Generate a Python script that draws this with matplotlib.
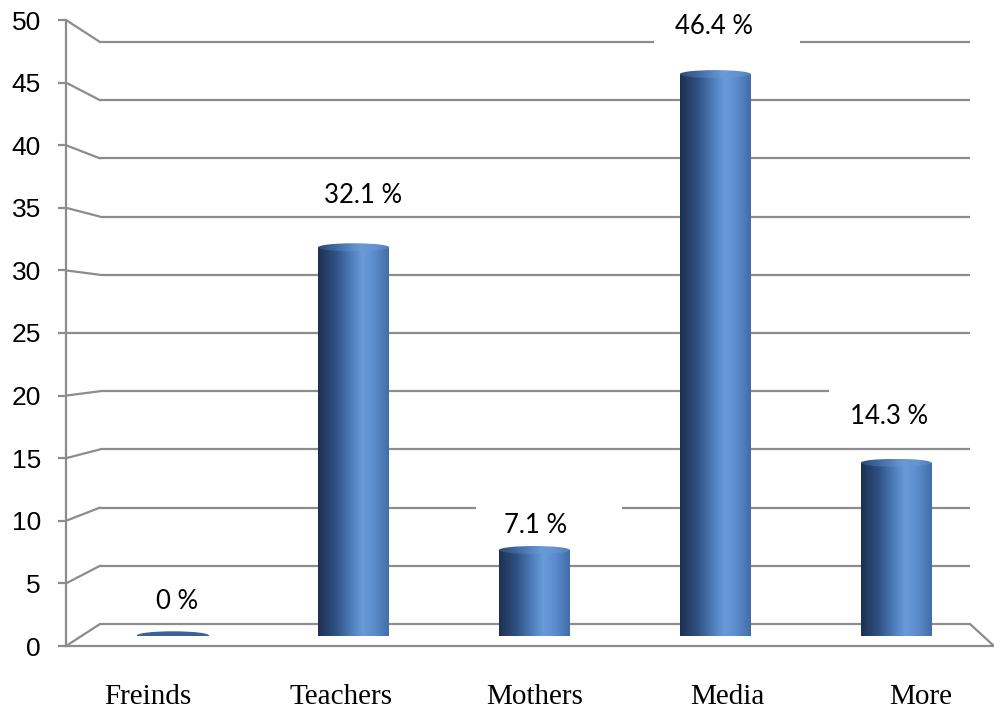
import matplotlib
matplotlib.use("Agg")
import matplotlib.pyplot as plt
import numpy as np
from matplotlib.colors import LinearSegmentedColormap
from matplotlib.patches import Ellipse, Rectangle, ConnectionPatch
from matplotlib.transforms import ScaledTranslation

categories = ["Freinds", "Teachers", "Mothers", "Media", "More"]
values = [0, 32.1, 7.1, 46.4, 14.3]
value_labels = ["0 %", "32.1 %", "7.1 %", "46.4 %", "14.3 %"]
yticks = [0, 5, 10, 15, 20, 25, 30, 35, 40, 45, 50]

# label lift above bar top (points) and small x nudge
label_lift = [25, 37, 18, 34, 33]
label_dx = [3, 7, 1, -1, -5]

grid_c = "#8c8c8c"
W, H = 994, 710

body_cmap = LinearSegmentedColormap.from_list(
    "body", [(0, "#1d3050"), (0.25, "#2f5283"), (0.5, "#5384c3"),
             (0.63, "#6a9bd9"), (0.8, "#5b8bca"), (1, "#416ea9")])
cap_cmap = LinearSegmentedColormap.from_list(
    "cap", [(0, "#2c4a78"), (0.3, "#4670a8"), (0.6, "#6a9ad6"),
            (0.8, "#6393d0"), (1, "#5080bc")])
grad = np.linspace(0, 1, 256).reshape(1, -1)


def px_rect(x0, y0, x1, y1):
    return [x0 / W, 1 - y1 / H, (x1 - x0) / W, (y1 - y0) / H]


fig = plt.figure(figsize=(9.94, 7.10), dpi=100)

# back wall (gridlines)
ax_back = fig.add_axes(px_rect(100, 42, 970, 624), zorder=0)
ax_back.set_xlim(0, 1)
ax_back.set_ylim(0, 50)
ax_back.axis("off")
ax_back.hlines(yticks, 0, 1, color=grid_c, lw=1.6, clip_on=False)

# front plane (axis, ticks, category labels)
ax_front = fig.add_axes(px_rect(66, 20, 994, 646), zorder=1)
ax_front.patch.set_alpha(0)
ax_front.set_ylim(0, 50)
ax_front.set_xlim(-0.424, 4.378)
for s in ["top", "right"]:
    ax_front.spines[s].set_visible(False)
for s in ["left", "bottom"]:
    ax_front.spines[s].set_color(grid_c)
    ax_front.spines[s].set_linewidth(1.6)
ax_front.set_yticks(yticks)
ax_front.set_yticklabels([str(t) for t in yticks], fontsize=19, family="Liberation Sans")
ax_front.tick_params(axis="y", length=6, width=1.6, color=grid_c, pad=12)
ax_front.set_xticks(range(len(categories)))
ax_front.set_xticklabels(categories, fontsize=21, family="Liberation Serif")
ax_front.tick_params(axis="x", length=0, pad=27)

# side wall / floor diagonals
for v in yticks:
    con = ConnectionPatch(xyA=(0, v), coordsA=ax_front.get_yaxis_transform(),
                          xyB=(0, v), coordsB=ax_back.get_yaxis_transform(),
                          color=grid_c, lw=1.6, shrinkA=0, shrinkB=0)
    fig.add_artist(con)
con = ConnectionPatch(xyA=(1, 0), coordsA=ax_front.get_yaxis_transform(),
                      xyB=(1, 0), coordsB=ax_back.get_yaxis_transform(),
                      color=grid_c, lw=1.6, shrinkA=0, shrinkB=0)
fig.add_artist(con)

# bars plane
ax_bars = fig.add_axes(px_rect(100, 636 - 50 * 12.11, 970, 636), zorder=2)
ax_bars.patch.set_alpha(0)
ax_bars.axis("off")

bw = 71 / 181
eh = 8 / 12.11

for i, (v, lbl) in enumerate(zip(values, value_labels)):
    x0, x1 = i - bw / 2, i + bw / 2
    if v > 0:
        im = ax_bars.imshow(grad, cmap=body_cmap, extent=(x0, x1, 0, v),
                            aspect="auto", zorder=3)
        im.set_clip_path(Rectangle((x0, 0), bw, v, transform=ax_bars.transData))
        bot = Ellipse((i, 0), bw, eh, transform=ax_bars.transData)
        im2 = ax_bars.imshow(grad, cmap=body_cmap, extent=(x0, x1, -eh / 2, eh / 2),
                             aspect="auto", zorder=3)
        im2.set_clip_path(bot)
        top = Ellipse((i, v), bw, eh, transform=ax_bars.transData)
        im3 = ax_bars.imshow(grad, cmap=cap_cmap, extent=(x0, x1, v - eh / 2, v + eh / 2),
                             aspect="auto", zorder=3.5)
        im3.set_clip_path(top)
    else:
        ax_bars.add_patch(Ellipse((i, v), bw, eh, color="#3b6296", zorder=3))

    # white label box hiding the gridlines
    trans = fig.dpi_scale_trans + ScaledTranslation(i, v, ax_bars.transData)
    lift_in = label_lift[i] / 72
    dx_in = label_dx[i] / 72
    ax_bars.add_patch(Rectangle((dx_in - 0.60, lift_in - 0.18), 1.46, 0.46,
                                transform=trans, facecolor="white",
                                edgecolor="none", zorder=1))
    ax_bars.annotate(lbl, (i, v), xytext=(label_dx[i], label_lift[i]),
                     textcoords="offset points", ha="center", va="center",
                     fontsize=18.5, family="Lato", zorder=4)

ax_bars.set_xlim(-(173 - 100) / 181, 4 + (970 - 896) / 181)
ax_bars.set_ylim(0, 50)

plt.savefig("out.png", dpi=100)
